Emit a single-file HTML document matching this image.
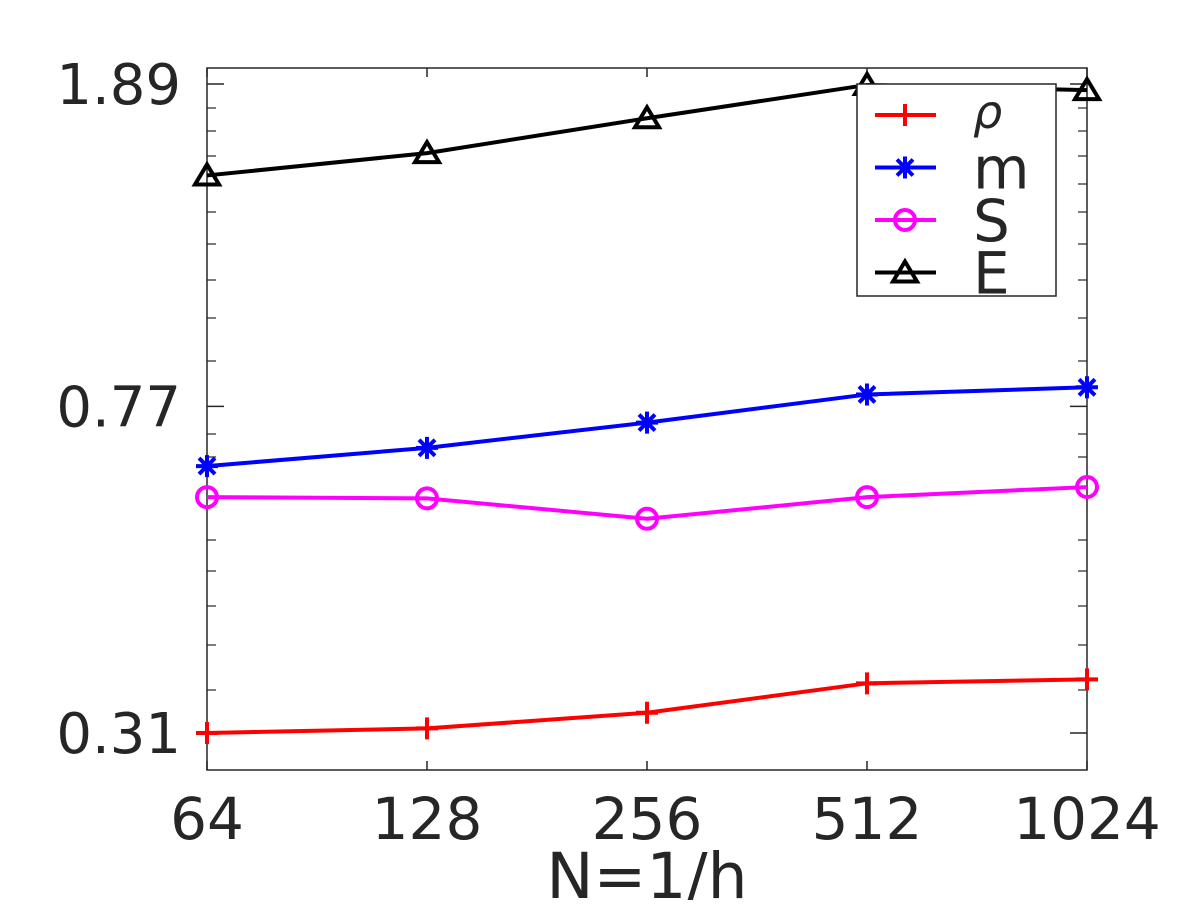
<!DOCTYPE html>
<html><head><meta charset="utf-8"><style>
html,body{margin:0;padding:0;background:#fff;}
svg text{font-family:"DejaVu Sans","Liberation Sans",sans-serif;fill:#262626;}
</style></head><body>
<svg id="chart" width="1200" height="900" viewBox="0 0 1200 900">
<rect x="0" y="0" width="1200" height="900" fill="#fff"/>
<rect x="207" y="68" width="880" height="702" fill="#fff" stroke="#262626" stroke-width="1.5"/>
<g id="ticks"></g>
<g id="series"></g>
<text x="647" y="898" font-size="63" text-anchor="middle">N=1/h</text>
<g>
<rect x="857" y="84" width="199" height="212" fill="#fff" stroke="#262626" stroke-width="1.5"/>
<g id="legend"></g>
</g>
</svg>
<script>
const categories = [64, 128, 256, 512, 1024];
const seriesNames = ["ρ", "m", "S", "E"];
const rhoValues = [0.310, 0.314, 0.328, 0.356, 0.360];
const mValues = [0.652, 0.686, 0.736, 0.796, 0.812];
const sValues = [0.598, 0.596, 0.563, 0.598, 0.615];
const eValues = [1.465, 1.559, 1.718, 1.885, 1.858];
const yTickLabels = ["0.31", "0.77", "1.89"];
const yTickValues = [0.31, 0.77, 1.89];

const NS = "http://www.w3.org/2000/svg";
const X0 = 207, X1 = 1087;
function xs(v){ return X0 + (Math.log2(v) - Math.log2(64)) / (Math.log2(1024) - Math.log2(64)) * (X1 - X0); }
function ys(v){ return 733 + (Math.log10(v) - Math.log10(0.31)) / (Math.log10(1.89) - Math.log10(0.31)) * (84 - 733); }
function mk(tag, attrs, parent){ const e = document.createElementNS(NS, tag); for (const k in attrs) e.setAttribute(k, attrs[k]); parent.appendChild(e); return e; }

const tg = document.getElementById('ticks');
categories.forEach(c => {
  const x = xs(c);
  const t1 = mk('line', {x1:x, x2:x, y1:770, y2:761, stroke:'#262626', 'stroke-width':1.5}, tg);
  
  
  const t2 = mk('line', {x1:x, x2:x, y1:68, y2:77, stroke:'#262626', 'stroke-width':1.5}, tg);
  
  
  const lb = mk('text', {x:x, y:839, 'font-size':58, 'text-anchor':'middle'}, tg);
  lb.textContent = c;
  
  
});
yTickValues.forEach((v, i) => {
  const y = ys(v);
  [[207, 224], [1087, 1070]].forEach(p => {
    const t = mk('line', {x1:p[0], x2:p[1], y1:y, y2:y, stroke:'#262626', 'stroke-width':1.5}, tg);
    
    
  });
  const lb = mk('text', {x:181, y:y + 20, 'font-size':56, 'text-anchor':'end'}, tg);
  lb.textContent = yTickLabels[i];
  
  
});
[108,131,156,184,212,244,280,318,361,434,457,540,571,606,645,690].forEach(y => {
  [[207, 216], [1087, 1078]].forEach(p => {
    const t = mk('line', {x1:p[0], x2:p[1], y1:y, y2:y, stroke:'#262626', 'stroke-width':1.2}, tg);
    
    
  });
});

function marker(type, x, y, color, g){
  let e;
  if (type === 'plus') {
    e = mk('path', {d:`M${x-11},${y}H${x+11}M${x},${y-11}V${y+11}`, stroke:color, 'stroke-width':4, fill:'none'}, g);
  } else if (type === 'star') {
    e = mk('path', {d:`M${x-11},${y}H${x+11}M${x},${y-11}V${y+11}M${x-8},${y-8}L${x+8},${y+8}M${x-8},${y+8}L${x+8},${y-8}`, stroke:color, 'stroke-width':4, fill:'none'}, g);
  } else if (type === 'circle') {
    e = mk('circle', {cx:x, cy:y, r:10, stroke:color, 'stroke-width':4, fill:'none'}, g);
  } else {
    e = mk('path', {d:`M${x},${y-11}L${x+12},${y+9}H${x-12}Z`, stroke:color, 'stroke-width':4, fill:'none', 'stroke-linejoin':'miter'}, g);
  }
  
  
}

const defs = [
  {vals: rhoValues, color:'#ff0000', m:'plus', name:'rho'},
  {vals: mValues, color:'#0000ff', m:'star', name:'m'},
  {vals: sValues, color:'#ff00ff', m:'circle', name:'s'},
  {vals: eValues, color:'#000000', m:'triangle', name:'e'}
];
const sg = document.getElementById('series');
const lg = document.getElementById('legend');
defs.forEach((d, i) => {
  const g = mk('g', {}, sg);
  
  
  const pts = d.vals.map((v, j) => xs(categories[j]) + ',' + ys(v)).join(' ');
  const pl = mk('polyline', {points:pts, fill:'none', stroke:d.color, 'stroke-width':4}, g);
  
  
  d.vals.forEach((v, j) => marker(d.m, xs(categories[j]), ys(v), d.color, g));

  const ly = 115 + i * 52.5;
  const le = mk('g', {}, lg);
  
  
  mk('line', {x1:875, x2:936, y1:ly, y2:ly, stroke:d.color, 'stroke-width':4}, le);
  marker(d.m, 905, ly, d.color, le);
  const t = mk('text', {x:973, y:ly + 21, 'font-size':58}, le);
  if (i === 0) { t.setAttribute('font-family', '"DejaVu Serif", "Liberation Serif", serif'); t.setAttribute('font-style', 'italic'); t.setAttribute('y', ly + 13); t.setAttribute('font-size', 46); }
  t.textContent = seriesNames[i];
  
  
});
</script>
</body></html>
